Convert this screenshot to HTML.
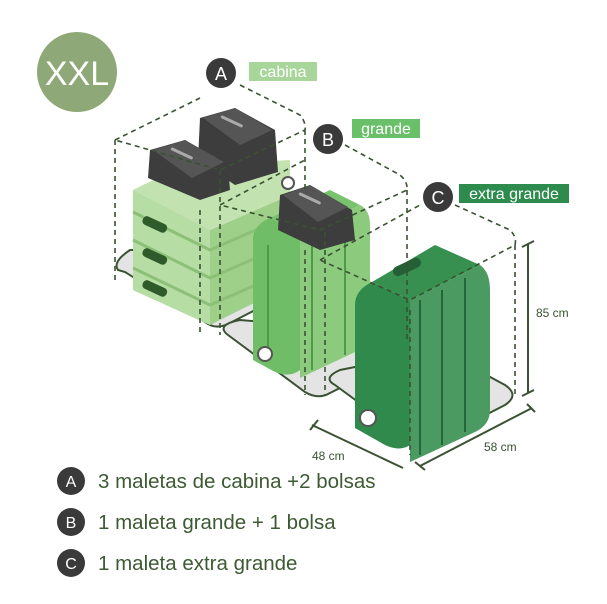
<!DOCTYPE html>
<html><head><meta charset="utf-8"><style>
html,body{margin:0;padding:0;background:#fff;}
svg{display:block;font-family:"Liberation Sans",sans-serif;}
</style></head><body>
<svg width="607" height="604" viewBox="0 0 607 604" xmlns="http://www.w3.org/2000/svg">
<circle cx="77" cy="72" r="40" fill="#8fa878"/>
<text x="77" y="85" text-anchor="middle" font-size="34" fill="#fff">XXL</text>

<g stroke="#3a5232" stroke-width="2" fill="#e4e4e4">
<path d="M125,272 L205,322 Q215,330 228,324 L290,292 L290,250 L130,250 Q112,262 118,270 Z"/>
<path d="M228,335 L305,392 Q318,400 330,393 L360,378 L360,330 L240,320 Q215,325 228,335 Z"/>
<path d="M335,385 L410,440 Q422,448 435,441 L505,405 Q520,395 505,385 L440,350 L340,370 Q322,378 335,385 Z"/>
</g>

<g>
<path d="M133,190 L210,230 L290,195 L290,285 L210,325 L133,290 Z" fill="#9fd08a"/>
<path d="M133,190 L210,230 L210,325 L133,290 Z" fill="#b6dda3"/>
<path d="M133,190 Q170,170 210,165 L290,160 L290,195 L210,230 Z" fill="#c2e3b0"/>
<g stroke="#8cc078" stroke-width="3" fill="none">
<path d="M133,212 L210,250 L290,215"/><path d="M133,240 L210,278 L290,243"/><path d="M133,268 L210,305 L290,270"/>
</g>
<g fill="#2f5a2a"><rect x="142" y="220" width="26" height="9" rx="4" transform="rotate(25 155 224)"/>
<rect x="142" y="252" width="26" height="9" rx="4" transform="rotate(25 155 256)"/>
<rect x="142" y="284" width="26" height="9" rx="4" transform="rotate(25 155 288)"/></g>
<circle cx="288" cy="183" r="6" fill="#fff" stroke="#555" stroke-width="2"/>
</g>

<g>
<path d="M200,118 L235,108 L275,130 L278,172 L235,185 L198,160 Z" fill="#3d3d3d"/>
<path d="M203,118 L235,108 L272,130 L240,145 Z" fill="#555"/>
<rect x="220" y="120" width="24" height="3" rx="1.5" fill="#aaa" transform="rotate(25 232 121)"/>
<path d="M150,150 L185,140 L228,165 L230,190 L200,200 L148,178 Z" fill="#3d3d3d"/>
<path d="M153,150 L185,140 L224,162 L192,178 Z" fill="#555"/>
<rect x="170" y="152" width="24" height="3" rx="1.5" fill="#aaa" transform="rotate(25 182 153)"/>
</g>

<g>
<path d="M253,240 Q253,225 270,218 L300,235 L300,370 Q290,378 275,372 L253,360 Z" fill="#6fbd66"/>
<path d="M300,235 L360,205 Q370,210 370,225 L370,345 L300,378 Z" fill="#8ccb7e"/>
<path d="M270,218 L330,190 L360,205 L300,235 Z" fill="#79c26e"/>
<g stroke="#4f9a48" stroke-width="2"><line x1="268" y1="245" x2="268" y2="360"/><line x1="312" y1="245" x2="312" y2="370"/><line x1="345" y1="230" x2="345" y2="355"/></g>
<circle cx="265" cy="354" r="7" fill="#fff" stroke="#555" stroke-width="2"/>
<path d="M280,195 L310,185 L352,210 L355,240 L320,250 L278,230 Z" fill="#3d3d3d"/>
<path d="M283,195 L310,185 L348,207 L318,222 Z" fill="#555"/>
<rect x="298" y="197" width="24" height="3" rx="1.5" fill="#aaa" transform="rotate(25 310 198)"/>
</g>

<g>
<path d="M355,305 Q355,290 372,282 L410,300 L410,445 Q400,452 385,445 L355,428 Z" fill="#2f8a4c"/>
<path d="M410,300 L480,265 Q490,272 490,290 L490,410 Q490,425 475,432 L410,462 Z" fill="#4a9a62"/>
<path d="M372,282 L435,245 L480,265 L410,300 Z" fill="#37904f"/>
<rect x="392" y="262" width="30" height="10" rx="5" fill="#245f35" transform="rotate(-25 407 267)"/>
<g stroke="#24663a" stroke-width="2"><line x1="420" y1="300" x2="420" y2="455"/><line x1="442" y1="290" x2="442" y2="445"/><line x1="465" y1="278" x2="465" y2="432"/></g>
<circle cx="368" cy="418" r="8" fill="#fff" stroke="#555" stroke-width="2"/>
</g>

<g stroke="#3a5232" stroke-width="1.6" fill="none" stroke-dasharray="5,4">
<path d="M115,140 L200,98 M240,85 L300,115 Q306,122 305,130 L220,170 L115,140 M115,140 L115,280 M305,130 L305,190 M200,210 L200,335 M220,170 L220,335"/>
<path d="M220,205 L305,160 M345,145 L400,175 Q408,182 407,190 L320,230 L220,205 M407,190 L407,340 M305,250 L305,395 M325,232 L325,395"/>
<path d="M320,260 L420,205 M455,205 L510,230 Q517,237 515,245 L410,300 L320,260 M515,245 L515,395 M410,310 L410,455"/>
</g>

<g stroke="#3a5232" stroke-width="2" fill="none">
<line x1="528" y1="244" x2="528" y2="393"/><line x1="522" y1="247" x2="534" y2="241"/><line x1="522" y1="396" x2="534" y2="390"/>
<line x1="420" y1="466" x2="532" y2="408"/><line x1="415" y1="462" x2="425" y2="470"/><line x1="527" y1="404" x2="535" y2="412"/>
<line x1="312" y1="425" x2="403" y2="468"/><line x1="310" y1="430" x2="318" y2="420"/>
</g>
<g fill="#3a5232" font-size="12">
<text x="536" y="317">85 cm</text><text x="484" y="451">58 cm</text><text x="312" y="460">48 cm</text>
</g>

<g fill="#3a3a3a"><circle cx="221" cy="73" r="15"/><circle cx="328" cy="139" r="15"/><circle cx="438" cy="197" r="15"/></g>
<g fill="#fff" font-size="18" text-anchor="middle"><text x="221" y="80">A</text><text x="328" y="146">B</text><text x="438" y="204">C</text></g>
<rect x="249" y="62" width="68" height="19" fill="#a8d69a"/>
<rect x="352" y="119" width="68" height="19" fill="#6abf69"/>
<rect x="459" y="184" width="110" height="19" fill="#2e8b4e"/>
<g fill="#fff" font-size="16" text-anchor="middle"><text x="283" y="77">cabina</text><text x="386" y="134">grande</text><text x="514" y="199">extra grande</text></g>

<g fill="#3a3a3a"><circle cx="71" cy="481" r="14"/><circle cx="71" cy="522" r="14"/><circle cx="71" cy="563" r="14"/></g>
<g fill="#fff" font-size="16" text-anchor="middle"><text x="71" y="487">A</text><text x="71" y="528">B</text><text x="71" y="569">C</text></g>
<g fill="#3d5a32" font-size="20.5"><text x="98" y="488">3 maletas de cabina +2 bolsas</text><text x="98" y="529">1 maleta grande + 1 bolsa</text><text x="98" y="570">1 maleta extra grande</text></g>
</svg>
</body></html>
